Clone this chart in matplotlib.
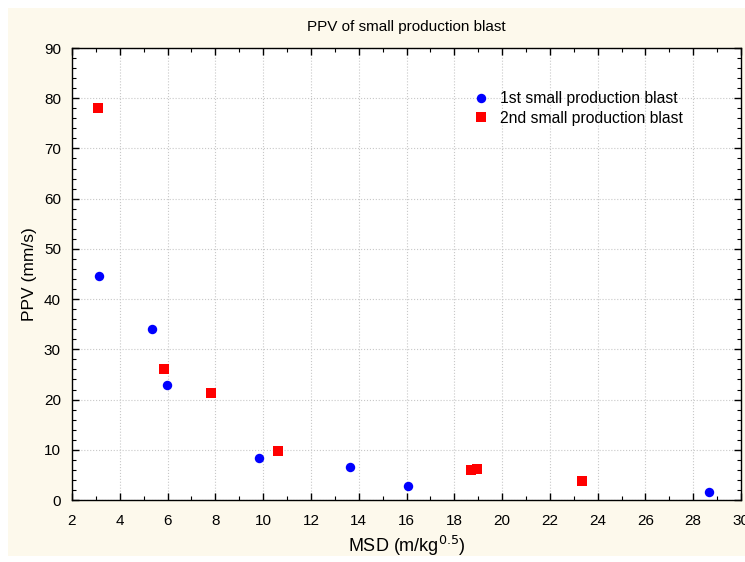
import matplotlib.pyplot as plt
from matplotlib.patches import Rectangle
from matplotlib.ticker import MultipleLocator

plt.rcParams['font.family'] = ['Liberation Sans', 'DejaVu Sans']

# MSD (m/kg^0.5) and PPV (mm/s)
msd_first = [3.13, 5.33, 5.99, 9.84, 13.62, 16.06, 28.64]
ppv_first = [44.7, 34.0, 22.8, 8.4, 6.5, 2.7, 1.6]

msd_second = [3.07, 5.84, 7.83, 10.63, 18.68, 18.93, 23.34]
ppv_second = [78.1, 26.1, 21.4, 9.7, 5.9, 6.2, 3.8]

labels = ['1st small production blast', '2nd small production blast']

fig = plt.figure(figsize=(7.45, 5.62), dpi=100)
fig.patch.set_facecolor('white')
# cream panel behind the plot
fig.patches.append(Rectangle((8 / 745, 6 / 562), 737 / 745, 548 / 562,
                             transform=fig.transFigure, facecolor='#fdf9ec',
                             edgecolor='none', zorder=-5))

ax = fig.add_axes([72 / 745, 62 / 562, 669 / 745, 452 / 562])
ax.set_facecolor('white')

ax.plot(msd_first, ppv_first, 'o', color='blue', markersize=6.8,
        markeredgewidth=0, label=labels[0], zorder=3)
ax.plot(msd_second, ppv_second, 's', color='red', markersize=6.5,
        markeredgewidth=0, label=labels[1], zorder=3)

ax.set_xlim(2, 30)
ax.set_ylim(0, 90)
ax.xaxis.set_major_locator(MultipleLocator(2))
ax.xaxis.set_minor_locator(MultipleLocator(1))
ax.yaxis.set_major_locator(MultipleLocator(10))
ax.yaxis.set_minor_locator(MultipleLocator(2))

ax.tick_params(which='both', direction='in', top=True, right=True,
               labelsize=11)
ax.tick_params(axis='x', pad=10)
ax.tick_params(axis='y', pad=8)
ax.tick_params(which='major', length=5, width=1)
ax.tick_params(which='minor', length=3, width=0.8)
for s in ax.spines.values():
    s.set_linewidth(1)

ax.grid(True, which='major', linestyle=':', color='#c8c8c8', linewidth=0.8)
ax.set_axisbelow(True)

ax.set_title('PPV of small production blast', fontsize=11, pad=12)
ax.set_xlabel('MSD (m/kg$^{0.5}$)', fontsize=13, labelpad=4)
ax.set_ylabel('PPV (mm/s)', fontsize=12.5, labelpad=5)

ax.legend(loc='upper left', bbox_to_anchor=(465 / 745, 1 - 85 / 562),
          bbox_transform=fig.transFigure, frameon=False, fontsize=11.3,
          handletextpad=0.6, borderaxespad=0, labelspacing=0.3,
          handlelength=1.2)

fig.savefig('out.png', dpi=100, facecolor=fig.get_facecolor())
